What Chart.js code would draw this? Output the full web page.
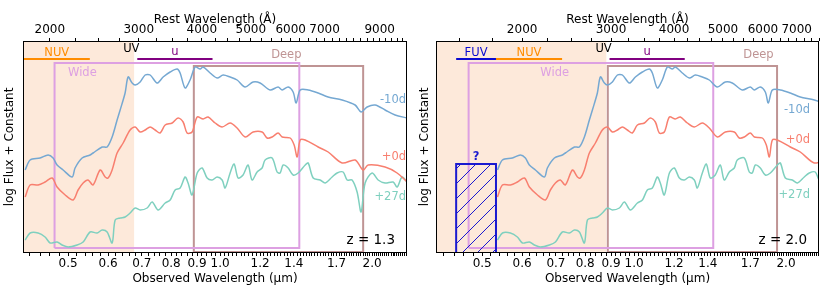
<!DOCTYPE html>
<html>
<head>
<meta charset="utf-8">
<script src="https://cdn.jsdelivr.net/npm/chart.js@4/dist/chart.umd.min.js"></script>
<style>
  body { margin: 0; background: #fff; }
  #wrap { position: relative; width: 830px; height: 297px; }
  .panel { position: absolute; top: 0; width: 415px; height: 297px; }
</style>
</head>
<body>
<div id="wrap">
  <div class="panel" style="left:0"><canvas id="panelA" width="415" height="297"></canvas></div>
  <div class="panel" style="left:415px"><canvas id="panelB" width="415" height="297"></canvas></div>
</div>
<script>
// rest-frame spectra (wavelength in Angstrom, log flux + offset, arbitrary units)
const wave10 = [1787,1828,1913,1984,2030,2067,2125,2214,2244,2317,2403,2436,2539,2597,2657,2718,2756,2819,2858,2911,
  2951,3019,3089,3160,3262,3353,3462,3574,3623,3706,3791,3880,3969,4024,4154,4289,4408,4551,4698,4873,
  5053,5217,5461,5664,5770,5930,6066,6150,6264,6497,6800,7116,7585,8047,8270,8500,8816,9226,9657,10200];
const flux10 = [83,93,95,98,95,88,83,76,85,95,98,100,106,106,116,133,143,160,176,170,
  168,171,178,178,170,176,181,184,180,165,173,186,184,186,180,175,178,176,173,166,
  171,170,163,166,163,166,161,150,163,163,160,156,153,148,141,146,148,143,138,135];

const wave0 = [1787,1828,1896,1957,2021,2067,2145,2224,2275,2328,2381,2436,2516,2574,2609,2657,2718,2794,2884,2951,
  3019,3089,3160,3233,3307,3384,3494,3590,3673,3740,3826,3916,4024,4117,4250,4388,4551,4698,4873,5053,
  5265,5387,5511,5664,5770,5984,6094,6178,6264,6409,6800,7116,7585,8047,8346,8539,9226,9746,10200];
const flux0 = [56,68,68,71,75,66,58,53,63,70,73,68,83,76,75,83,100,110,123,126,
  121,123,126,123,120,128,130,135,131,120,121,136,134,136,130,126,130,125,116,121,
  121,115,116,120,116,115,108,96,113,113,106,101,90,93,83,88,86,80,71];

const wave27 = [1787,1828,1896,1957,2003,2067,2115,2174,2265,2328,2403,2481,2539,2597,2657,2694,2756,2819,2884,2951,
  3019,3117,3189,3277,3384,3462,3541,3623,3706,3757,3826,3916,4005,4098,4192,4289,4388,4448,4551,4634,
  4720,4828,4939,5030,5147,5265,5338,5511,5638,5716,5796,5930,6066,6207,6409,6497,6647,6861,7020,7246,
  7413,7619,7759,7937,8121,8270,8423,8696,8938,9226,9570,9746,9970,10200];
const flux27 = [13,20,20,16,10,11,8,6,8,11,21,20,23,21,10,33,35,36,40,45,
  43,45,51,43,50,53,63,65,76,70,58,80,85,75,73,76,73,65,80,89,
  75,78,88,73,81,85,93,95,81,80,88,85,78,80,88,90,75,73,70,76,
  80,81,73,73,61,41,70,80,73,70,71,66,76,71];

const phases = ['-10d', '+0d', '+27d'];
const redshifts = [1.3, 2.0];

// tick labels
const restLabelTicks = [2000, 3000, 4000, 5000, 6000, 7000, 9000];
const obsLabelTicks = [0.5, 0.6, 0.7, 0.8, 0.9, 1.0, 1.2, 1.4, 1.7, 2.0];

// filter bands (rest frame, Angstrom) and survey coverage (observed, micron)
const fuvBand = [1480, 1775];
const nuvBand = [1775, 2400];
const uBand = [2980, 4200];
const uvEdge = 2940;
const wideBox = [0.47, 1.435];
const deepBox = [0.887, 1.92];

Chart.defaults.font.family = 'DejaVu Sans';
Chart.defaults.font.size = 12;
Chart.defaults.color = '#000';

const specColors = ['#75a8d2', '#f87f6f', '#7fd0bf'];
const FONT = '11.5px "DejaVu Sans"';

function makeHatch() {
  const c = document.createElement('canvas');
  c.width = 15; c.height = 15;
  const g = c.getContext('2d');
  g.strokeStyle = '#1a1ad0';
  g.lineWidth = 1;
  g.beginPath();
  g.moveTo(-1, 16); g.lineTo(16, -1);
  g.stroke();
  return g.createPattern(c, 'repeat');
}

const notes = {
  id: 'notes',
  afterDatasetsDraw(chart, _args, o) {
    const {ctx, chartArea: a, scales: {x, y}} = chart;
    ctx.save();
    ctx.textBaseline = 'middle';
    o.items.forEach(t => {
      ctx.font = t.font || FONT;
      ctx.fillStyle = t.color;
      ctx.textAlign = t.align || 'center';
      const px = t.inset != null ? a.right - t.inset : x.getPixelForValue(t.x);
      ctx.fillText(t.text, px, y.getPixelForValue(t.y));
    });
    ctx.strokeStyle = '#000';
    ctx.lineWidth = 1;
    ctx.strokeRect(a.left + 0.5, a.top + 0.5, a.width - 1, a.height - 1);
    ctx.restore();
  }
};

function makePanel(id, z, o) {
  const toObs = w => w * (1 + z) / 1e4;
  const [xMin, xMax] = o.range;
  const seg = (x0, x1, yv, color) => ({
    data: [{x: x0, y: yv}, {x: x1, y: yv}],
    borderColor: color, borderWidth: 2, order: 3
  });
  const box = (b, y0, y1, color) => ({
    data: [{x: b[0], y: y0}, {x: b[0], y: y1}, {x: b[1], y: y1}, {x: b[1], y: y0}, {x: b[0], y: y0}],
    borderColor: color, borderWidth: 2, order: 4
  });

  const datasets = [
    { // UV shading
      data: [{x: xMin, y: 212}, {x: toObs(uvEdge), y: 212}],
      borderWidth: 0, borderColor: 'rgba(0,0,0,0)', backgroundColor: '#fde9da', fill: 'start', order: 20
    },
    box(wideBox, 5, 190, '#dda0e2'),
    box(deepBox, 1, 187, '#bf9494'),
    seg(toObs(nuvBand[0]), toObs(nuvBand[1]), 194, '#ff8c00'),
    seg(toObs(uBand[0]), toObs(uBand[1]), 194, '#800080'),
  ];
  const spectra = [[wave10, flux10], [wave0, flux0], [wave27, flux27]];
  spectra.forEach(([w, f], i) => datasets.push({
    data: w.map((v, k) => ({x: toObs(v), y: f[k]})),
    borderColor: specColors[i], borderWidth: 1.5, order: 1, tension: 0.3
  }));

  const items = [
    {text: 'NUV', x: toObs(Math.sqrt(nuvBand[0] * nuvBand[1])), y: 200, color: '#ff8c00'},
    {text: 'u', x: toObs(Math.sqrt(uBand[0] * uBand[1])), y: 201, color: '#800080'},
    {text: 'UV', x: toObs(2900), y: 204, color: '#000'},
    {text: 'Wide', x: toObs(2320), y: 180, color: '#dda0e2'},
    {text: 'Deep', x: toObs(5880), y: 198, color: '#bf9494'},
    {text: 'z = ' + z.toFixed(1), inset: 12, align: 'right', y: 13, color: '#000', font: '13.5px "DejaVu Sans"'},
  ];
  phases.forEach((p, i) => items.push({text: p, inset: o.labelInset, align: 'right', y: o.labelY[i], color: specColors[i]}));

  if (o.fuv) {
    datasets.push(seg(toObs(fuvBand[0]), toObs(fuvBand[1]), 194, '#0a0ad0'));
    datasets.push({
      data: [{x: toObs(fuvBand[0]), y: 0}, {x: toObs(fuvBand[0]), y: 89},
             {x: toObs(fuvBand[1]), y: 89}, {x: toObs(fuvBand[1]), y: 0}],
      borderColor: '#1a1ad0', borderWidth: 2, backgroundColor: makeHatch(), fill: 'start', order: 2
    });
    items.push({text: 'FUV', x: toObs(Math.sqrt(fuvBand[0] * fuvBand[1])), y: 200, color: '#0a0ad0'});
    items.push({text: '?', x: toObs(Math.sqrt(fuvBand[0] * fuvBand[1])), y: 96, color: '#1a1ad0', font: 'bold 11.5px "DejaVu Sans"'});
  }

  datasets.forEach(d => { d.showLine = true; d.pointRadius = 0; if (d.tension == null) d.tension = 0; });

  new Chart(document.getElementById(id), {
    type: 'scatter',
    data: {datasets},
    plugins: [notes],
    options: {
      responsive: false,
      animation: false,
      devicePixelRatio: 1,
      layout: {padding: {right: o.padRight, left: 0, top: 0, bottom: 0}},
      plugins: {legend: {display: false}, tooltip: {enabled: false}, notes: {items}},
      scales: {
        x: {
          type: 'logarithmic', position: 'bottom', min: xMin, max: xMax,
          afterBuildTicks: s => {
            const t = [];
            for (let k = 21; k * 0.02 <= xMax; k++) t.push({value: Math.round(k * 2) / 100});
            s.ticks = t;
          },
          afterFit: s => { s.height = 44; },
          ticks: {
            autoSkip: false, maxRotation: 0, padding: 1,
            callback: v => obsLabelTicks.some(m => Math.abs(m - v) < 1e-6) ? v.toFixed(1) : ''
          },
          grid: {drawOnChartArea: false, tickLength: 3, color: '#000'},
          border: {display: false},
          title: {display: true, text: 'Observed Wavelength (μm)', padding: {top: 0, bottom: 11}}
        },
        xTop: {
          type: 'logarithmic', position: 'top', min: xMin * 1e4 / (1 + z), max: xMax * 1e4 / (1 + z),
          afterBuildTicks: s => {
            const t = [];
            for (let w = 1500; w <= s.max; w += 250) if (w >= s.min) t.push({value: w});
            s.ticks = t;
          },
          afterFit: s => { s.height = 41; },
          ticks: {
            autoSkip: false, maxRotation: 0, padding: 1,
            callback: v => restLabelTicks.includes(v) ? String(v) : ''
          },
          grid: {drawOnChartArea: false, tickLength: 3, color: '#000'},
          border: {display: false},
          title: {display: true, text: 'Rest Wavelength (Å)', padding: {top: 13, bottom: 0}}
        },
        y: {
          min: 0, max: 212,
          afterFit: s => { s.width = o.left; },
          ticks: {display: false},
          grid: {display: false},
          border: {display: false},
          title: {display: true, text: 'log Flux + Constant', padding: {top: 3, bottom: 0}}
        }
      }
    }
  });
}

makePanel('panelA', redshifts[0], {range: [0.407, 2.345], padRight: 8, left: 23, labelInset: 1, labelY: [153, 96, 56]});
makePanel('panelB', redshifts[1], {range: [0.405, 2.325], padRight: 11, left: 21, labelInset: 9, labelY: [143, 113, 58], fuv: true});
</script>
</body>
</html>
